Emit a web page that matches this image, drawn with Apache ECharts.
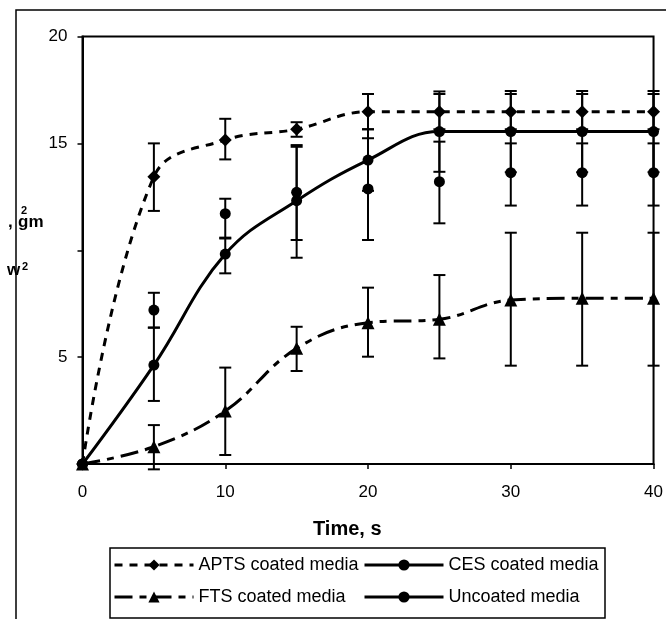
<!DOCTYPE html>
<html><head><meta charset="utf-8">
<script src="https://cdn.jsdelivr.net/npm/echarts@6/dist/echarts.min.js"></script>
<style>html,body{margin:0;padding:0;background:#fff}#c{width:666px;height:619px}</style>
</head><body><div id="c"></div>
<script>
const times = [0, 5, 10, 15, 20, 25, 30, 35, 40];
const xTicks = [0, 10, 20, 30, 40];
const yTickLabels = ['', '5', '', '15', '20'];

const aptsVals = [0, 13.44, 15.16, 15.66, 16.48, 16.48, 16.48, 16.48, 16.48];
const aptsLow  = [null, 11.84, 14.25, 15.31, 15.66, 15.66, 15.66, 15.66, 15.66];
const aptsHigh = [null, 15.0, 16.15, 15.99, 17.31, 17.31, 17.31, 17.31, 17.31];

const cesVals = [0, 4.63, 9.82, 12.32, 14.22, 15.55, 15.55, 15.55, 15.55];
const cesLow  = [null, 2.95, 8.92, 9.65, 12.78, 13.67, 13.65, 13.65, 13.65];
const cesHigh = [null, 6.38, 10.59, 14.92, 15.66, 17.43, 17.45, 17.45, 17.45];

const uncVals = [0, 7.2, 11.71, 12.71, 12.87, 13.21, 13.63, 13.63, 13.63];
const uncLow  = [null, 6.38, 10.55, 10.48, 10.48, 11.26, 12.09, 12.09, 12.09];
const uncHigh = [null, 8.01, 12.41, 14.84, 15.24, 15.08, 15.0, 15.0, 15.0];

const ftsVals = [0, 0.81, 2.48, 5.41, 6.61, 6.77, 7.67, 7.75, 7.75];
const ftsLow  = [null, -0.25, 0.42, 4.35, 5.02, 4.94, 4.6, 4.6, 4.6];
const ftsHigh = [null, 1.82, 4.51, 6.42, 8.25, 8.84, 10.82, 10.82, 10.82];

const names = ['APTS coated media', 'CES coated media', 'FTS coated media', 'Uncoated media'];

const FONT = '"Liberation Sans", Arial, sans-serif';
const pts = v => times.map((t, i) => [t, v[i]]);
const errs = (lo, hi) => times.map((t, i) => [t, lo[i], hi[i]]).filter(d => d[1] !== null);

function errRender(params, api) {
  const x = api.value(0), lo = api.value(1), hi = api.value(2);
  const p1 = api.coord([x, lo]), p2 = api.coord([x, hi]);
  const hw = 6;
  const style = { stroke: '#000', lineWidth: 2 };
  return { type: 'group', children: [
    { type: 'line', shape: { x1: p1[0], y1: p1[1], x2: p2[0], y2: p2[1] }, style },
    { type: 'line', shape: { x1: p1[0] - hw, y1: p1[1], x2: p1[0] + hw, y2: p1[1] }, style },
    { type: 'line', shape: { x1: p2[0] - hw, y1: p2[1], x2: p2[0] + hw, y2: p2[1] }, style }
  ]};
}
function errSeries(lo, hi) {
  return { type: 'custom', renderItem: errRender, data: errs(lo, hi), z: 1, silent: true,
    encode: { x: 0, y: [1, 2] }, clip: false };
}

const aptsDash = [8, 7];
const ftsDash = [18, 7, 7, 7];

function legendAt(name, left, top, lineStyle) {
  return { show: true, left, top, padding: 0, itemWidth: 79, itemHeight: 14, itemGap: 0,
    selectedMode: false, textStyle: { fontFamily: FONT, fontSize: 18, color: '#000' },
    data: [{ name, lineStyle, itemStyle: { color: '#000', opacity: 1 } }] };
}

const chart = echarts.init(document.getElementById('c'), null, { renderer: 'canvas' });
chart.setOption({
  animation: false,
  backgroundColor: '#fff',
  grid: { left: 82.5, right: 10, top: 36.5, bottom: 155, show: true, borderColor: '#000', borderWidth: 2 },
  xAxis: { type: 'value', min: xTicks[0], max: xTicks[xTicks.length - 1], interval: 10,
    axisLine: { show: true, lineStyle: { color: '#000', width: 2 } },
    axisTick: { show: true, inside: false, length: 5, lineStyle: { color: '#000', width: 1.5 } },
    axisLabel: { margin: 20, fontFamily: FONT, fontSize: 17, color: '#000' },
    splitLine: { show: false } },
  yAxis: { type: 'value', min: 0, max: 20, interval: 5,
    axisLine: { show: true, lineStyle: { color: '#000', width: 2 } },
    axisTick: { show: true, inside: false, length: 5, lineStyle: { color: '#000', width: 1.5 } },
    axisLabel: { margin: 15, fontFamily: FONT, fontSize: 17, color: '#000',
      formatter: v => yTickLabels[Math.round(v / 5)] },
    splitLine: { show: false } },
  legend: [
    legendAt(names[0], 113, 556, { color: '#000', width: 3, type: aptsDash, opacity: 1 }),
    legendAt(names[1], 363, 556, { color: '#000', width: 3, type: 'solid', opacity: 1 }),
    legendAt(names[2], 113, 588, { color: '#000', width: 3, type: ftsDash, opacity: 1 }),
    legendAt(names[3], 363, 588, { color: '#000', width: 3, type: 'solid', opacity: 1 })
  ],
  graphic: [
    { type: 'polyline', shape: { points: [[16, 619], [16, 10], [666, 10]] }, style: { stroke: '#000', lineWidth: 1.5, fill: null } },
    { type: 'rect', shape: { x: 110, y: 548, width: 495, height: 70 }, style: { stroke: '#000', lineWidth: 1.5, fill: null }, z: -1 },
    { type: 'text', left: 313, top: 519, style: { text: 'Time, s', font: 'bold 20px ' + FONT, fill: '#000' } },
    { type: 'text', x: 8, y: 214, style: { text: ',', font: 'bold 17px ' + FONT, fill: '#000' } },
    { type: 'text', x: 18, y: 214, style: { text: 'gm', font: 'bold 17px ' + FONT, fill: '#000' } },
    { type: 'text', x: 21, y: 205, style: { text: '2', font: 'bold 11px ' + FONT, fill: '#000' } },
    { type: 'text', x: 7, y: 262, style: { text: 'w', font: 'bold 17px ' + FONT, fill: '#000' } },
    { type: 'text', x: 22, y: 261, style: { text: '2', font: 'bold 11px ' + FONT, fill: '#000' } }
  ],
  series: [
    { name: names[0], type: 'line', data: pts(aptsVals), smooth: 0.4, symbol: 'diamond', symbolSize: 13,
      itemStyle: { color: '#000' }, lineStyle: { color: '#000', width: 3, type: aptsDash }, z: 3 },
    { name: names[1], type: 'line', data: pts(cesVals), smooth: 0.4, symbol: 'circle', symbolSize: 11,
      itemStyle: { color: '#000' }, lineStyle: { color: '#000', width: 3, type: 'solid' }, z: 3 },
    { name: names[2], type: 'line', data: pts(ftsVals), smooth: 0.4, symbol: 'triangle', symbolSize: 13,
      itemStyle: { color: '#000' }, lineStyle: { color: '#000', width: 3, type: ftsDash }, z: 3 },
    { name: names[3], type: 'line', data: pts(uncVals), symbol: 'circle', symbolSize: 11,
      itemStyle: { color: '#000' }, lineStyle: { color: '#000', width: 3, opacity: 0 }, z: 3 },
    errSeries(aptsLow, aptsHigh),
    errSeries(cesLow, cesHigh),
    errSeries(ftsLow, ftsHigh),
    errSeries(uncLow, uncHigh)
  ]
});
</script></body></html>
